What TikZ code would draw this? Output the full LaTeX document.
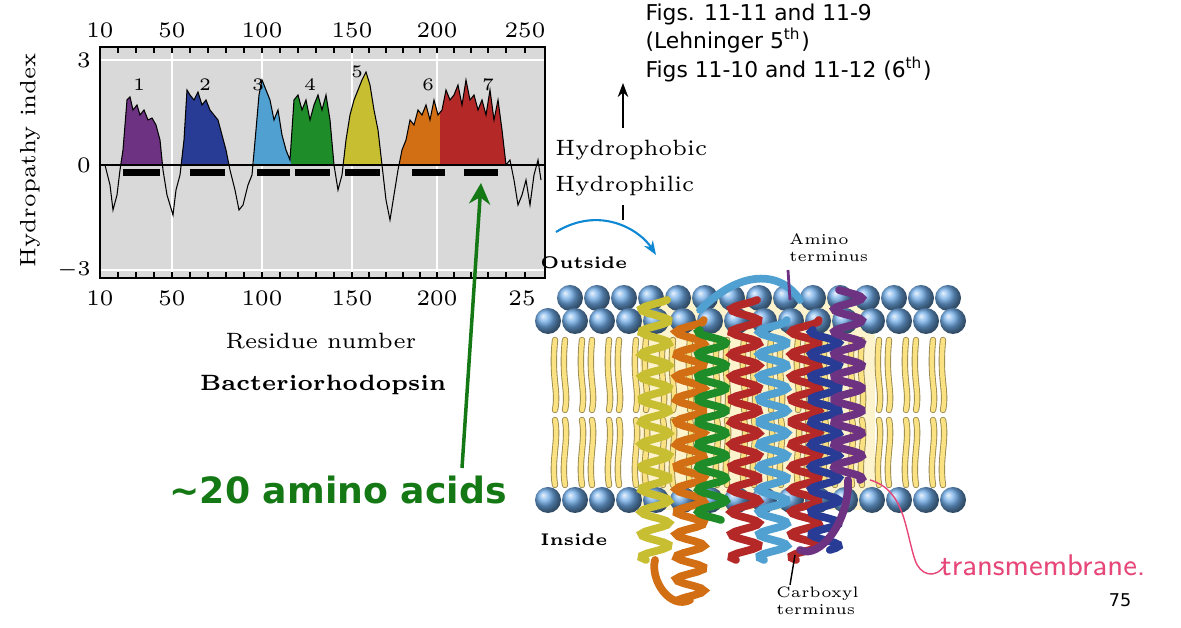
\documentclass[tikz,border=0pt]{standalone}
\usepackage{fontspec}
\newfontfamily\tah{DejaVu Sans}
\usetikzlibrary{arrows.meta}
\definecolor{plotbg}{RGB}{217,217,217}
\definecolor{c1}{RGB}{110,50,130}\definecolor{c2}{RGB}{40,60,150}
\definecolor{c3}{RGB}{80,160,210}\definecolor{c4}{RGB}{30,140,40}
\definecolor{c5}{RGB}{200,190,50}\definecolor{c6}{RGB}{210,110,20}
\definecolor{c7}{RGB}{180,40,40}\definecolor{agreen}{RGB}{20,120,20}
\definecolor{headc}{RGB}{110,170,230}\definecolor{tailc}{RGB}{250,225,130}
\definecolor{pinkc}{RGB}{230,70,120}
\tikzset{lab/.style={font=\fontsize{6.3}{7}\selectfont,inner sep=0.5pt},
 sm/.style={font=\fontsize{4.3}{4.9}\selectfont,inner sep=0.5pt},
 tail/.style={line width=1.3pt,tailc,line cap=round},
 tailo/.style={line width=1.8pt,black!40!tailc,line cap=round},
 helix/.style={line width=2.2pt,line cap=round}}
\begin{document}
\begin{tikzpicture}[x=0.01cm,y=-0.01cm]
\useasboundingbox (0,0) rectangle (1181,628);
% plot
\fill[plotbg] (100,47) rectangle (545,278);
\foreach \x in {172,262,352,437}{\draw[white,line width=0.5pt] (\x,47)--(\x,278);}
\draw[white,line width=0.5pt] (100,60)--(545,60) (100,270)--(545,270);
\def\curve{(105,165)--(110,185)--(113,210)--(117,195)--(120,170)--(123,150)--(127,100)--(130,97)--(133,110)--(137,105)--(140,115)--(144,110)--(148,120)--(152,118)--(156,125)--(160,140)--(163,170)--(167,195)--(170,205)--(173,215)--(176,190)--(180,175)--(184,140)--(187,90)--(190,95)--(194,100)--(198,92)--(202,105)--(206,100)--(210,110)--(214,115)--(218,120)--(222,135)--(226,150)--(230,170)--(235,190)--(239,210)--(243,205)--(248,185)--(252,175)--(256,130)--(259,95)--(262,80)--(266,90)--(270,100)--(274,120)--(278,110)--(282,135)--(286,150)--(290,160)--(294,100)--(298,95)--(302,110)--(306,100)--(310,120)--(314,105)--(318,95)--(322,110)--(326,95)--(330,120)--(334,165)--(338,190)--(342,175)--(346,140)--(350,115)--(354,100)--(358,90)--(362,80)--(366,72)--(370,85)--(374,110)--(378,130)--(382,165)--(386,200)--(390,220)--(394,195)--(398,170)--(402,150)--(406,140)--(410,120)--(414,125)--(418,110)--(422,115)--(426,105)--(430,120)--(434,100)--(438,115)--(442,110)--(446,90)--(450,100)--(454,95)--(458,85)--(462,105)--(466,80)--(470,100)--(474,95)--(478,110)--(482,100)--(486,115)--(490,90)--(494,120)--(498,100)--(502,130)--(506,165)--(510,160)--(514,180)--(518,205)--(522,195)--(526,180)--(530,205)--(534,175)--(538,160)--(541,180)}
\foreach \a/\b/\c in {118/165/c1,180/232/c2,254/291/c3,291/334/c4,340/384/c5,398/440/c6,440/506/c7}{
 \begin{scope}\clip (\a,47) rectangle (\b,165);
 \fill[\c] \curve--(541,165)--(105,165)--cycle;\end{scope}}
\draw[line width=0.3pt] (100,165)--(545,165);
\draw[line width=0.3pt] \curve;
\foreach \a/\b in {123/160,190/225,257/290,295/330,345/380,412/445,464/498}{\fill (\a,169) rectangle (\b,176);}
\draw[line width=0.3pt] (100,47) rectangle (545,278);
\foreach \x in {100,118,136,154,172,190,208,226,244,262,280,298,316,334,352,369,386,403,420,437,454,471,488,506,525}{\draw[line width=0.3pt] (\x,47)--(\x,53) (\x,278)--(\x,272);}
\foreach \l/\x in {1/139,2/205,3/258,4/310,5/357,6/428,7/488}{\node[lab,font=\fontsize{5}{6}\selectfont] (n\l) at (\x,\ifnum\l=5 72\else 85\fi) {\l};}
\foreach \t/\x in {10/100,50/172,100/262,150/352,200/437,250/525}{\node[lab] (t\t) at (\x,30) {\t};}
\foreach \t/\x in {10/100,50/172,100/262,150/352,200/437}{\node[lab] (b\t) at (\x,298) {\t};}
\node[lab] (b250) at (522,298) {25};
\node[lab,anchor=east] (y3) at (93,60) {3};
\node[lab,anchor=east] (y0) at (93,165) {0};
\node[lab,anchor=east] (ym3) at (93,270) {$-3$};
\node[lab,rotate=90] (yl) at (30,160) {Hydropathy index};
\node[lab] (xl) at (321,341) {Residue number};
\node[lab,font=\fontsize{6.3}{7}\selectfont\bfseries] (bac) at (323,385) {Bacteriorhodopsin};
% refs
\node[anchor=north west,align=left,inner sep=0pt,font=\tah\fontsize{6.2}{6.9}\selectfont] (refs) at (645,3) {Figs. 11-11 and 11-9\\(Lehninger 5\textsuperscript{th})\\Figs 11-10 and 11-12 (6\textsuperscript{th})};
\node[lab,anchor=west] (hpo) at (553,150) {Hydrophobic};
\node[lab,anchor=west] (hpi) at (553,186) {Hydrophilic};
\coordinate (ua) at (623,128); \coordinate (ub) at (623,83);
\draw[-{Stealth[length=4pt]},line width=0.5pt] (ua)--(ub);
\draw[line width=0.5pt] (623,205)--(623,220);
% membrane
\fill[tailc!40] (640,295) rectangle (875,510);
\foreach \x in {560,587,614,641,668,695,722,749,776,803,830,857,884,911,938}{
 \foreach \d in {-5,5}{
 \draw[tailo] (\x+\d,340) .. controls (\x+\d-4,380) and (\x+\d+4,390) .. (\x+\d,410);
 \draw[tail] (\x+\d,340) .. controls (\x+\d-4,380) and (\x+\d+4,390) .. (\x+\d,410);
 \draw[tailo] (\x+\d,420) .. controls (\x+\d+4,440) and (\x+\d-4,460) .. (\x+\d,485);
 \draw[tail] (\x+\d,420) .. controls (\x+\d+4,440) and (\x+\d-4,460) .. (\x+\d,485);}}
\foreach \x in {570,597,624,651,678,705,732,759,786,813,840,867,894,921,948}{\shade[ball color=headc] (\x,298) circle (13);}
\foreach \x in {548,575,602,629,656,683,710,737,764,791,818,845,872,899,926,953}{\shade[ball color=headc] (\x,321) circle (13);}
\foreach \x in {548,575,602,629,656,683,710,737,764,791,818,845,872,899,926,953}{\shade[ball color=headc] (\x,500) circle (13);}
% helices
\foreach \x/\ya/\yb/\c in {655/300/560/c5,690/320/600/c6,712/330/520/c4,745/300/560/c7,773/320/560/c3,805/320/560/c7,825/330/550/c2,848/290/480/c1}{
 \draw[helix,\c,domain=\ya:\yb,samples=120,variable=\t] plot ({\x+14*sin(\t*16)},\t);}
\draw[helix,c3] (700,310) .. controls (740,270) and (780,270) .. (800,300);
\draw[helix,c6] (690,600) .. controls (670,610) and (650,580) .. (655,560);
\draw[helix,c1] (848,480) .. controls (850,520) and (820,560) .. (800,550);
\draw[c1,line width=0.8pt] (788,270)--(790,300);
\draw[line width=0.4pt] (795,555)--(790,585);
\node[sm,font=\fontsize{4.8}{5.4}\selectfont\bfseries,anchor=west] (out) at (538,263) {Outside};
\node[sm,font=\fontsize{4.8}{5.4}\selectfont\bfseries,anchor=west] (in) at (538,540) {Inside};
\node[sm,align=left,anchor=west] (amino) at (787,248) {Amino\\terminus};
\node[sm,align=left,anchor=west] (carb) at (774,601) {Carboxyl\\terminus};
% cyan arrow
\draw[cyan!70!blue,line width=0.6pt,-{Stealth[length=4pt]}] (556,232) .. controls (600,205) and (640,230) .. (656,255);
% green
\node[font=\tah\bfseries\fontsize{10.3}{12}\selectfont,text=agreen,inner sep=0pt] (aa) at (338,490) {\textasciitilde 20 amino acids};
\coordinate (ga) at (462,468); \coordinate (gb) at (481,183);
\draw[agreen,line width=1pt,-{Stealth[length=6pt,width=6pt]}] (ga)--(gb);
% pink
\draw[pinkc,line width=0.4pt] (870,480) .. controls (905,490) and (905,530) .. (915,560) .. controls (920,575) and (935,580) .. (945,565);
\node[font=\sffamily\fontsize{8.5}{9}\selectfont,text=pinkc,anchor=west,inner sep=0pt] (tm) at (940,565) {transmembrane.};
\node[font=\tah\fontsize{5}{6}\selectfont] (pg) at (1120,600) {75};
\end{tikzpicture}
\end{document}
